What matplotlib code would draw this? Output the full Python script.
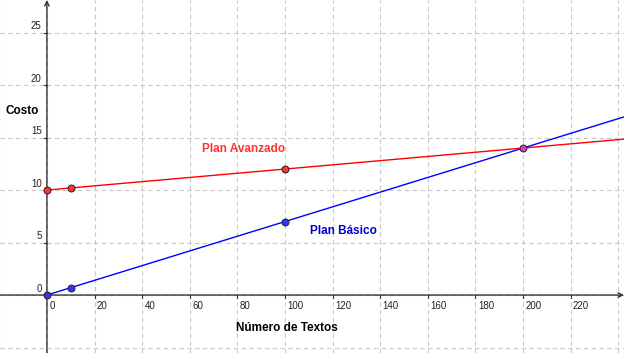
import matplotlib
matplotlib.use("Agg")
import matplotlib.pyplot as plt

plt.rcParams['font.family'] = ['Liberation Sans', 'DejaVu Sans']

# datos
x_ticks = [0, 20, 40, 60, 80, 100, 120, 140, 160, 180, 200, 220]
y_ticks = [0, 5, 10, 15, 20, 25]

basico_x = [0, 10, 100]
basico_y = [0, 0.7, 7]
avanzado_x = [0, 10, 100]
avanzado_y = [10, 10.2, 12]
cruce = (200, 14)

x_min, x_max = -19.7, 242.4
y_min, y_max = -5.52, 28.1

fig = plt.figure(figsize=(6.24, 3.53), dpi=100)
ax = fig.add_axes([0, 0, 1, 1])
ax.set_xlim(x_min, x_max)
ax.set_ylim(y_min, y_max)

# rejilla
for gx in range(-20, 260, 20):
    ax.axvline(gx, color="#c8c8c8", lw=0.8, ls=(0, (4, 3)), zorder=0)
for gy in range(-5, 30, 5):
    ax.axhline(gy, color="#c8c8c8", lw=0.8, ls=(0, (4, 3)), zorder=0)

for s in ax.spines.values():
    s.set_visible(False)
ax.set_xticks([])
ax.set_yticks([])

# ejes con flecha
ax.annotate("", xy=(x_max, 0), xytext=(x_min, 0),
            arrowprops=dict(arrowstyle="->", color="#333333", lw=1,
                            shrinkA=0, shrinkB=0, mutation_scale=8), zorder=2)
ax.annotate("", xy=(0, y_max), xytext=(0, y_min),
            arrowprops=dict(arrowstyle="->", color="#333333", lw=1,
                            shrinkA=0, shrinkB=0, mutation_scale=8), zorder=2)

# marcas y etiquetas
for t in x_ticks:
    ax.plot([t, t], [0, -0.3], color="#333333", lw=0.8, zorder=2)
    ax.text(t + 1.0, -0.55, str(t), fontsize=7, color="#222222",
            ha="left", va="top")
for t in y_ticks:
    ax.plot([0, -1.2], [t, t], color="#333333", lw=0.8, zorder=2)
    ax.text(-2.2, t + 0.1, str(t), fontsize=7, color="#222222",
            ha="right", va="bottom")

# rectas
xs = [0, x_max]
ax.plot(xs, [0.07 * v for v in xs], color="#0000ff", lw=1, zorder=3)
ax.plot(xs, [10 + 0.02 * v for v in xs], color="#ff0000", lw=1, zorder=3)

ax.plot(avanzado_x, avanzado_y, "o", ms=5, mfc="#ff3333", mec="#222222",
        mew=0.7, zorder=4, clip_on=False)
ax.plot(basico_x, basico_y, "o", ms=5, mfc="#3333ff", mec="#222222",
        mew=0.7, zorder=4, clip_on=False)
ax.plot(*cruce, "o", ms=5, mfc="#cc44cc", mec="#222222", mew=0.7, zorder=4)

# textos
fs = 8.5
ax.text(-17.5, 17.5, "Costo", fontsize=fs, fontweight="bold", va="center")
ax.text(100.8, -3.15, "Número de Textos", fontsize=fs, fontweight="bold",
        ha="center", va="center")
ax.text(82.4, 13.9, "Plan Avanzado", fontsize=fs, fontweight="bold",
        color="#ff3333", ha="center", va="center")
ax.text(124.5, 6.1, "Plan Básico", fontsize=fs, fontweight="bold",
        color="#0000cc", ha="center", va="center")

fig.savefig("out.png", dpi=100, facecolor="white")
